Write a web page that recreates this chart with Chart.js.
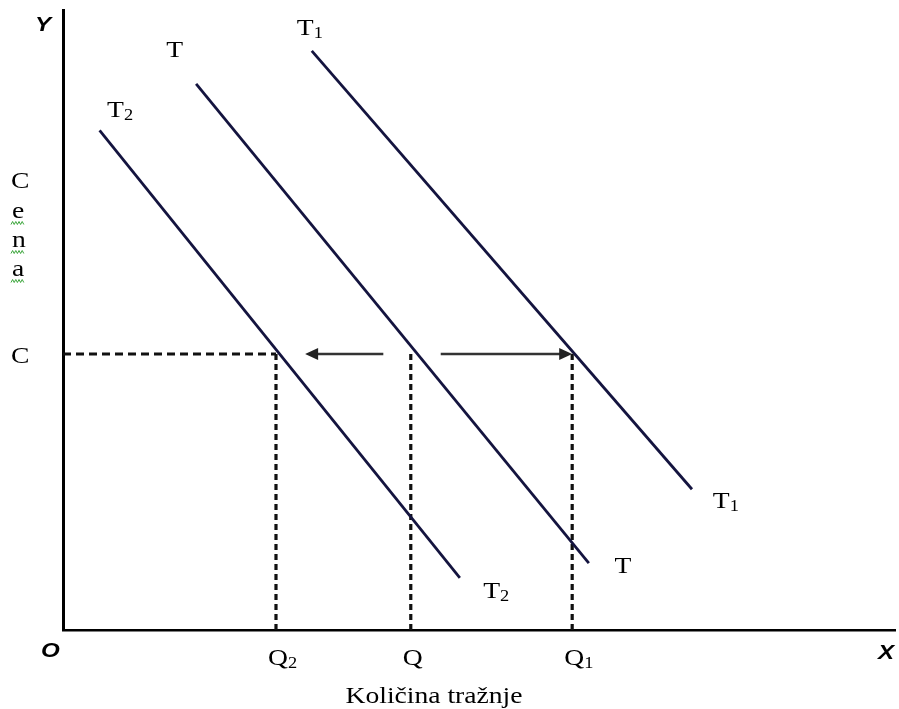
<!DOCTYPE html>
<html>
<head>
<meta charset="utf-8">
<script src="https://cdn.jsdelivr.net/npm/chart.js@4.4.1/dist/chart.umd.min.js"></script>
<style>
  html, body { margin: 0; padding: 0; background: #fff; }
  #wrap { width: 899px; height: 709px; position: relative; }
</style>
</head>
<body>
<div id="wrap"><canvas id="demandChart"></canvas></div>
<script>
// demand curves (x = quantity, y = price, arbitrary 0-100 units)
const curveT2 = [{ x: 4.4, y: 80.6 }, { x: 47.7, y: 8.4 }];
const curveT = [{ x: 16.0, y: 88.1 }, { x: 63.2, y: 10.8 }];
const curveT1 = [{ x: 29.9, y: 93.4 }, { x: 75.6, y: 22.7 }];

// price level C and the quantities read at it
const priceC = 44.5;
const quantities = [25.6, 41.8, 61.2];
const quantityNames = [['Q', '2'], ['Q', ''], ['Q', '1']];

// shift arrows: [from, to] along the price level
const arrowLeft = [38.5, 29.1];
const arrowRight = [45.4, 61.2];

// curve labels: [name, subscript, x, y]
const curveLabels = [
    ['T', '2', 5.3, 82.7],
    ['T', '', 12.4, 92.4],
    ['T', '1', 28.1, 96.0],
    ['T', '2', 50.5, 5.2],
    ['T', '', 66.3, 9.2],
    ['T', '1', 78.1, 19.7]
];

const axisName = 'Količina tražnje';
const priceName = ['C', 'e', 'n', 'a'];

const curveColor = '#14143f';
const serif = '"Liberation Serif", "Times New Roman", serif';

function lineSet(data, color, width, dash) {
    return {
        data: data,
        showLine: true,
        borderColor: color,
        borderWidth: width,
        borderDash: dash || [],
        pointRadius: 0,
        fill: false,
        clip: false
    };
}

const datasets = [
    lineSet(curveT2, curveColor, 2.8),
    lineSet(curveT, curveColor, 2.8),
    lineSet(curveT1, curveColor, 2.8),
    lineSet([{ x: 0, y: priceC }, { x: quantities[0], y: priceC }], '#111', 3, [8, 5]),
    lineSet([{ x: arrowLeft[0], y: priceC }, { x: arrowLeft[1] + 1.2, y: priceC }], '#333', 2.5),
    lineSet([{ x: arrowRight[0], y: priceC }, { x: arrowRight[1] - 1.2, y: priceC }], '#333', 2.5)
];
quantities.forEach(q => {
    datasets.push(lineSet([{ x: q, y: priceC }, { x: q, y: 0 }], '#111', 3.2, [6, 4]));
});

function text(ctx, str, px, py, font, align) {
    ctx.save();
    ctx.font = font;
    ctx.textBaseline = 'alphabetic';
    ctx.translate(px, py);
    ctx.scale(1.15, 1);
    let w = ctx.measureText(str).width;
    let dx = align === 'center' ? -w / 2 : 0;
    ctx.fillText(str, dx, 0);
    ctx.restore();
    return w * 1.15;
}

function subText(ctx, main, sub, px, py, center) {
    ctx.save();
    ctx.font = '24px ' + serif;
    let mw = ctx.measureText(main).width * 1.15;
    ctx.restore();
    let left = center ? px - mw / 2 : px;
    text(ctx, main, left, py, '24px ' + serif);
    if (sub) text(ctx, sub, left + mw, py + 3, '16px ' + serif);
}

function arrowHead(ctx, x0, x1, y) {
    let dir = Math.sign(x1 - x0);
    ctx.beginPath();
    ctx.moveTo(x1, y);
    ctx.lineTo(x1 - dir * 13, y - 6);
    ctx.lineTo(x1 - dir * 13, y + 6);
    ctx.closePath();
    ctx.fill();
}

const annotations = {
    id: 'annotations',
    afterDatasetsDraw(chart) {
        const { ctx, scales: { x, y } } = chart;
        ctx.save();
        ctx.fillStyle = '#222';
        let py = y.getPixelForValue(priceC);
        arrowHead(ctx, x.getPixelForValue(arrowLeft[0]), x.getPixelForValue(arrowLeft[1]), py);
        arrowHead(ctx, x.getPixelForValue(arrowRight[0]), x.getPixelForValue(arrowRight[1]), py);

        ctx.fillStyle = '#000';
        curveLabels.forEach(l => {
            subText(ctx, l[0], l[1], x.getPixelForValue(l[2]), y.getPixelForValue(l[3]), false);
        });
        quantities.forEach((q, i) => {
            subText(ctx, quantityNames[i][0], quantityNames[i][1], x.getPixelForValue(q) + 2, y.bottom + 35, true);
        });

        // price level and vertical axis name
        text(ctx, 'C', 11, py + 9, '24px ' + serif);
        const base = [188, 218, 247, 276];
        priceName.forEach((ch, i) => {
            text(ctx, ch, ch === 'C' ? 11 : 12, base[i], '24px ' + serif);
            if (i > 0) {
                ctx.save();
                ctx.strokeStyle = '#3aa53a';
                ctx.lineWidth = 1;
                ctx.beginPath();
                for (let k = 0; k <= 8; k++) {
                    let sx = 11 + k * 1.6;
                    let sy = base[i] + 5 + (k % 2 ? -1.5 : 1.5);
                    if (k === 0) ctx.moveTo(sx, sy); else ctx.lineTo(sx, sy);
                }
                ctx.stroke();
                ctx.restore();
            }
        });

        text(ctx, axisName, 434, y.bottom + 73, '24px ' + serif, 'center');

        // axis letters
        const sans = 'italic bold 21px "Liberation Sans", Arial, sans-serif';
        text(ctx, 'Y', 35, 31, sans);
        text(ctx, 'O', 41, 657, sans);
        text(ctx, 'X', 878, 659, sans);
        ctx.restore();
    }
};

const ctx = document.getElementById('demandChart').getContext('2d');
const demandChart = new Chart(ctx, {
    type: 'scatter',
    data: { datasets: datasets },
    options: {
        responsive: true,
        maintainAspectRatio: false,
        animation: false,
        layout: { padding: { left: 63, right: 4, top: 10, bottom: 79 } },
        plugins: {
            legend: { display: false },
            tooltip: { enabled: false }
        },
        scales: {
            x: {
                type: 'linear',
                min: 0,
                max: 100,
                grid: { display: false, drawTicks: false },
                border: { display: true, color: '#000', width: 2.5 },
                ticks: { display: false },
                afterFit(scale) { scale.height = 0; }
            },
            y: {
                type: 'linear',
                min: 0,
                max: 100,
                grid: { display: false, drawTicks: false },
                border: { display: true, color: '#000', width: 3 },
                ticks: { display: false },
                afterFit(scale) { scale.width = 0; }
            }
        }
    },
    plugins: [annotations]
});
</script>
</body>
</html>
